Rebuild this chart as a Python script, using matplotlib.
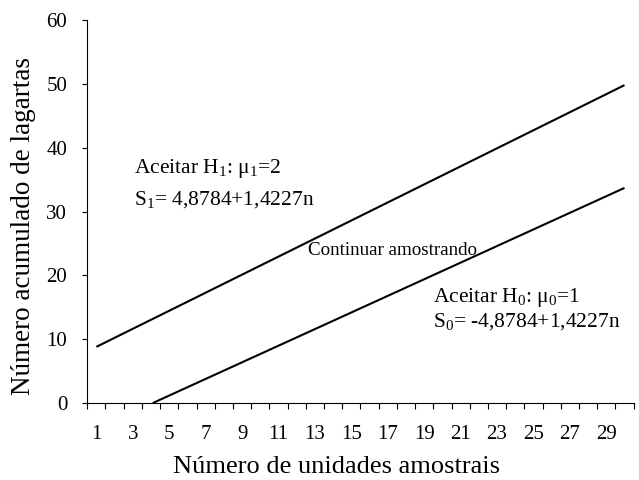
import matplotlib
matplotlib.use("Agg")
import matplotlib.pyplot as plt
import numpy as np

# values (straight segments)
n_upper = [1, 30]
s1_values = [8.8, 49.8]
n_lower = [4.1, 30]
s0_values = [0.0, 33.7]

x_ticks = list(range(1, 30, 2))
y_ticks = [0, 10, 20, 30, 40, 50, 60]

plt.rcParams["font.family"] = ["Liberation Serif", "DejaVu Serif"]
plt.rcParams["mathtext.fontset"] = "custom"
plt.rcParams["mathtext.rm"] = "Liberation Serif"
plt.rcParams["mathtext.it"] = "Liberation Serif"
plt.rcParams["mathtext.default"] = "regular"

fig = plt.figure(figsize=(6.39, 4.8), dpi=100)
ax = fig.add_axes([0.1366, 0.1604, 0.855, 0.7979])

ax.plot(n_upper, s1_values, color="black", lw=1.5, solid_capstyle="butt")
ax.plot(n_lower, s0_values, color="black", lw=1.5, solid_capstyle="butt")

ax.set_xlim(0.5, 30.5)
ax.set_ylim(0, 60)

ax.set_xticks(x_ticks)
ax.set_xticks(np.arange(0.5, 31, 1), minor=True)
ax.tick_params(axis="x", which="major", length=0, pad=16, labelsize=15)
ax.tick_params(axis="x", which="minor", length=4, direction="out", width=0.8)
ax.set_yticks(y_ticks)
ax.tick_params(axis="y", length=3.5, direction="out", width=0.8, labelsize=15, pad=11)

for side in ["top", "right"]:
    ax.spines[side].set_visible(False)
for side in ["left", "bottom"]:
    ax.spines[side].set_linewidth(0.8)

ax.set_xlabel("Número de unidades amostrais", fontsize=19, va="center")
ax.xaxis.set_label_coords(0.457, -0.167)
ax.set_ylabel("Número acumulado de lagartas", fontsize=19.5, va="center")
ax.yaxis.set_label_coords(-0.116, 0.462)

ax.text(3.06, 36.7, "Aceitar H$_1$: μ$_1$=2", fontsize=15.5, va="center", ha="left")
ax.text(3.06, 31.9, "S$_1$= 4,8784+1,4227n", fontsize=15.5, va="center", ha="left")
ax.text(12.61, 23.9, "Continuar amostrando", fontsize=13.7, va="center", ha="left")
ax.text(19.46, 16.6, "Aceitar H$_0$: μ$_0$=1", fontsize=15.5, va="center", ha="left")
ax.text(19.46, 12.7, "S$_0$= -4,8784+1,4227n", fontsize=15.5, va="center", ha="left")

fig.savefig("out.png", dpi=100)
